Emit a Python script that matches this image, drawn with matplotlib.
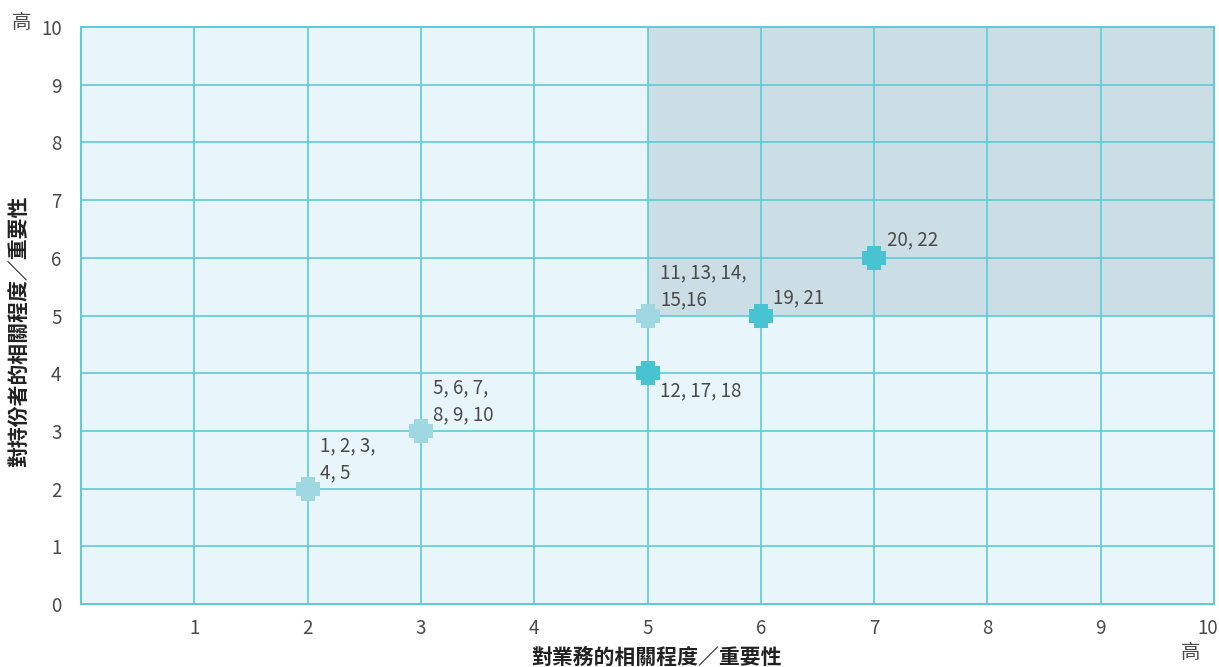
import numpy as np
import matplotlib.pyplot as plt
from matplotlib.path import Path
from matplotlib.patches import Rectangle
from matplotlib.transforms import ScaledTranslation

plt.rcParams['font.family'] = ['Noto Sans CJK TC', 'DejaVu Sans']

# data: (business relevance, stakeholder relevance) and issue numbers
light_x = [2, 3, 5]
light_y = [2, 3, 5]
light_labels = ['1, 2, 3,\n4, 5', '5, 6, 7,\n8, 9, 10', '11, 13, 14,\n15,16']

dark_x = [5, 6, 7]
dark_y = [4, 5, 6]
dark_labels = ['12, 17, 18', '19, 21', '20, 22']

x_ticks = [1, 2, 3, 4, 5, 6, 7, 8, 9, 10]
y_ticks = [0, 1, 2, 3, 4, 5, 6, 7, 8, 9, 10]
threshold = 5  # upper-right quadrant is shaded
axis_max = 10

x_title = '對業務的相關程度／重要性'
y_title = '對持份者的相關程度／重要性'
high_word = '高'

bg_color = '#e8f6fb'
shade_color = '#cbdde5'
grid_color = '#5ccbd6'
light_color = '#9fd8e3'
dark_color = '#47c3d1'
text_color = '#4a4a4a'

# thick plus marker
a = 0.58
plus_marker = Path([(-a, -1), (a, -1), (a, -a), (1, -a), (1, a), (a, a),
                    (a, 1), (-a, 1), (-a, a), (-1, a), (-1, -a), (-a, -a), (-a, -1)],
                   closed=True)

fig = plt.figure(figsize=(12.19, 6.67), dpi=100)
ax = fig.add_axes([81 / 1219, 63 / 667, (1214 - 81) / 1219, (604 - 27) / 667])
ax.set_facecolor(bg_color)
ax.set_xlim(0, axis_max)
ax.set_ylim(0, axis_max)

ax.add_patch(Rectangle((threshold, threshold), axis_max - threshold, axis_max - threshold,
                       facecolor=shade_color, edgecolor='none', zorder=0.2))

ax.set_axisbelow(True)
ax.grid(True, color=grid_color, linewidth=1.2)
for s in ax.spines.values():
    s.set_color(grid_color)
    s.set_linewidth(1.4)

ax.set_xticks(x_ticks)
ax.set_yticks(y_ticks)
ax.tick_params(length=0, labelsize=13.5, labelcolor=text_color)
ax.tick_params(axis='x', pad=10)
ax.tick_params(axis='y', pad=14)

# last x label sits a bit inside the right edge
last_lab = ax.get_xticklabels()[-1]
last_lab.set_transform(last_lab.get_transform() + ScaledTranslation(-6 / 100, 0, fig.dpi_scale_trans))

ax.scatter(light_x, light_y, marker=plus_marker, s=17.5 ** 2, color=light_color,
           linewidths=0, zorder=3, clip_on=False)
ax.scatter(dark_x, dark_y, marker=plus_marker, s=17.5 ** 2, color=dark_color,
           linewidths=0, zorder=3, clip_on=False)

for x, y, lab in zip(light_x, light_y, light_labels):
    ax.annotate(lab, (x, y), xytext=(9, 4), textcoords='offset points',
                ha='left', va='bottom', fontsize=13.5, color=text_color,
                linespacing=1.35)

for x, y, lab in zip(dark_x, dark_y, dark_labels):
    if y < threshold:
        ax.annotate(lab, (x, y), xytext=(9, -13), textcoords='offset points',
                    ha='left', va='center', fontsize=13.5, color=text_color)
    else:
        ax.annotate(lab, (x, y), xytext=(9, 13), textcoords='offset points',
                    ha='left', va='center', fontsize=13.5, color=text_color)

fig.text(656 / 1219, 1 - 657 / 667, x_title, ha='center', va='center',
         fontsize=15, fontweight='bold', color='#222222')
fig.text(20 / 1219, 1 - 331 / 667, y_title, ha='center', va='center', rotation=90,
         fontsize=15, fontweight='bold', color='#222222')
fig.text(22 / 1219, 1 - 22 / 667, high_word, ha='center', va='center',
         fontsize=14, color=text_color)
fig.text(1191 / 1219, 1 - 653 / 667, high_word, ha='center', va='center',
         fontsize=14, color=text_color)

fig.savefig('out.png', dpi=100, facecolor='white')
